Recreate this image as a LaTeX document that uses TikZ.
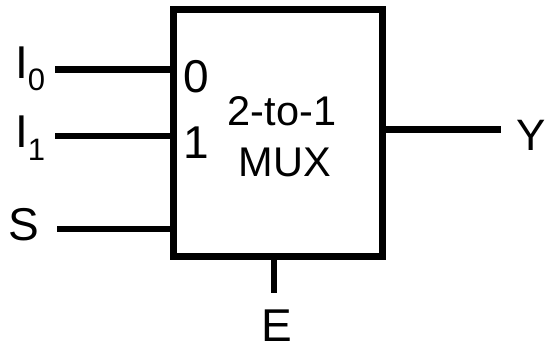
\documentclass[tikz,border=0pt]{standalone}
\usepackage{fontspec}
\setmainfont{Liberation Sans}
\begin{document}
\begin{tikzpicture}[x=1pt,y=-1pt,
  wire/.style={line width=6.4pt,black,line cap=butt},
  lab/.style={inner sep=0pt,font=\fontsize{46}{48}\selectfont,text=black},
  inner/.style={inner sep=0pt,font=\fontsize{41.5}{44}\selectfont,text=black,align=center}]
\useasboundingbox (0,0) rectangle (548,345);
\node[draw=black,line width=7pt,outer sep=0pt,minimum width=209pt,minimum height=247pt,inner sep=0pt] (mux) at (278,133) {};
\node[lab,anchor=base west] (i0) at (15,78) {I\raisebox{-12.5pt}{\fontsize{31}{33}\selectfont 0}};
\node[lab,anchor=base west] (i1) at (15,147) {I\raisebox{-13pt}{\fontsize{31}{33}\selectfont 1}};
\node[lab,anchor=base] (s) at (24,240) {S};
\node[lab,anchor=base,font=\fontsize{44}{46}\selectfont] (y) at (531.5,150) {Y};
\node[lab,anchor=base] (e) at (277,341) {E};
\node[lab,anchor=base] (n0) at (196,92.5) {0};
\node[lab,anchor=base] (n1) at (196,158) {1};
\node[inner,anchor=base] (t1) at (282,125) {2-to-1};
\node[inner,anchor=base] (t2) at (285,176) {MUX};
\coordinate (a0) at (55,69.3);
\coordinate (a1) at (55,136);
\coordinate (a2) at (57,228.7);
\coordinate (b3) at (501,129.3);
\coordinate (a4) at (274,257); \coordinate (b4) at (274,293);
\draw[wire] (a0) -- (mux.west |- a0);
\draw[wire] (a1) -- (mux.west |- a1);
\draw[wire] (a2) -- (mux.west |- a2);
\draw[wire] (mux.east |- b3) -- (b3);
\draw[wire] (mux.south -| a4) -- (b4);
\end{tikzpicture}
\end{document}
